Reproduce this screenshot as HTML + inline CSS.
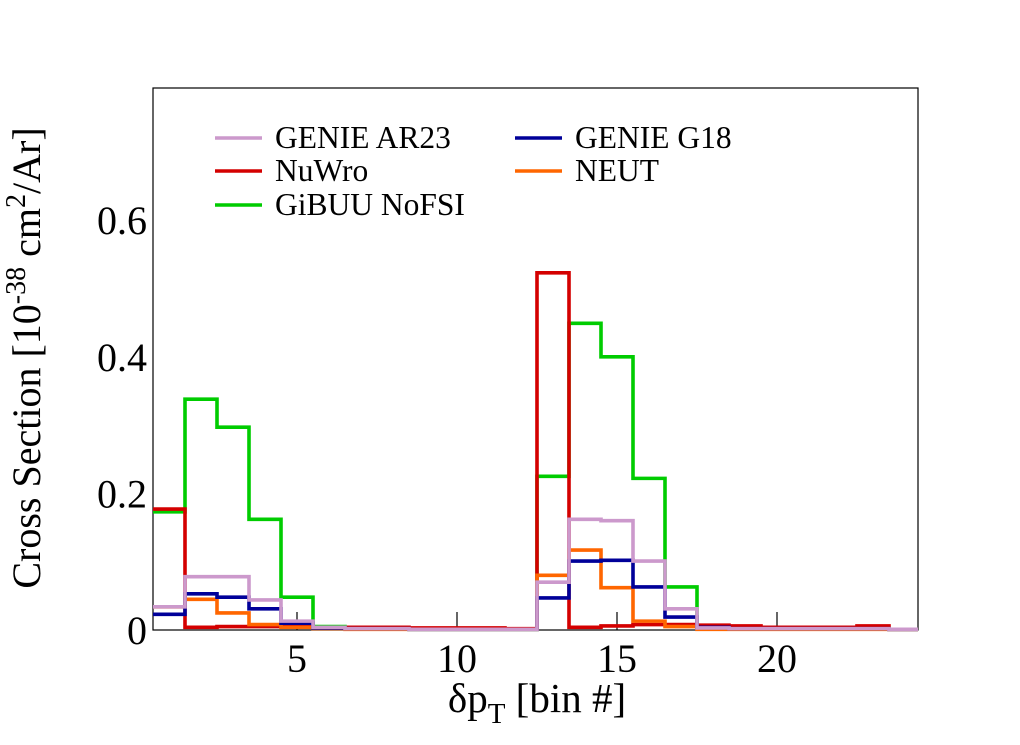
<!DOCTYPE html>
<html><head><meta charset="utf-8"><style>
body{margin:0;background:#fff;}
svg text{font-family:"Liberation Serif",serif;fill:#000;}
</style></head><body>
<svg id="c" width="1020" height="740" viewBox="0 0 1020 740">
<rect x="153" y="88" width="765" height="542" fill="none" stroke="#000" stroke-width="1.2"/>
<g id="ticks"></g>
<g id="series"></g>
<text x="40" y="358" font-size="40" text-anchor="middle" transform="rotate(-90 40 358)">Cross Section [10<tspan dy="-15" font-size="28">-38</tspan><tspan dy="15"> cm</tspan><tspan dy="-15" font-size="28">2</tspan><tspan dy="15">/Ar]</tspan></text>
<text x="537" y="712" font-size="41" text-anchor="middle">δp<tspan dy="11" font-size="29">T</tspan><tspan dy="-11"> [bin #]</tspan></text>
<g id="legend" font-size="31.5"></g>
</svg>
<script>
const bins=[1,2,3,4,5,6,7,8,9,10,11,12,13,14,15,16,17,18,19,20,21,22,23,24];
const gibuu=[0.173,0.338,0.297,0.162,0.048,0.005,0.002,0.002,0.001,0.001,0.001,0.001,0.225,0.449,0.400,0.222,0.063,0.003,0.002,0.002,0.002,0.002,0.002,0.001];
const nuwro=[0.177,0.004,0.005,0.005,0.005,0.003,0.004,0.004,0.003,0.003,0.003,0.002,0.523,0.004,0.006,0.008,0.008,0.007,0.006,0.004,0.004,0.004,0.006,0.001];
const neut=[0.034,0.045,0.025,0.008,0.004,0.002,0.001,0.001,0.001,0.001,0.001,0.001,0.080,0.117,0.062,0.013,0.005,0.001,0.001,0.001,0.001,0.001,0.001,0.001];
const g18=[0.023,0.053,0.048,0.031,0.010,0.003,0.002,0.002,0.001,0.001,0.001,0.001,0.047,0.101,0.102,0.063,0.019,0.004,0.002,0.002,0.002,0.002,0.002,0.001];
const ar23=[0.034,0.078,0.078,0.044,0.013,0.004,0.002,0.002,0.001,0.001,0.001,0.001,0.070,0.162,0.160,0.101,0.031,0.003,0.002,0.002,0.002,0.002,0.002,0.001];
const yTicks=[0,0.2,0.4,0.6];
const yTickLabels=["0","0.2","0.4","0.6"];
const xTicks=[5,10,15,20];
const NS='http://www.w3.org/2000/svg';
const X=v=>153+(v-0.5)*32, Y=v=>630-v*683;
const tk=document.getElementById('ticks');
yTicks.forEach((t,i)=>{const e=document.createElementNS(NS,'text');
e.setAttribute('x',147);e.setAttribute('y',Y(t)+14);e.setAttribute('font-size','40');e.setAttribute('text-anchor','end');
e.textContent=yTickLabels[i];


tk.appendChild(e);});
xTicks.forEach(t=>{const l=document.createElementNS(NS,'line');
l.setAttribute('x1',X(t));l.setAttribute('x2',X(t));l.setAttribute('y1',630);l.setAttribute('y2',612);l.setAttribute('stroke','#000');l.setAttribute('stroke-width','1.2');


tk.appendChild(l);
const e=document.createElementNS(NS,'text');
e.setAttribute('x',X(t));e.setAttribute('y',672);e.setAttribute('font-size','40');e.setAttribute('text-anchor','middle');e.textContent=t;


tk.appendChild(e);});
const series=[[gibuu,'#00cc00','gibuu-nofsi'],[nuwro,'#d40000','nuwro'],[neut,'#ff6600','neut'],[g18,'#000099','genie-g18'],[ar23,'#cc99cc','genie-ar23']];
const sg=document.getElementById('series');
series.forEach(([d,c,n])=>{let p='';
bins.forEach((b,i)=>{const x0=Math.max(153,X(b-0.5)),x1=Math.min(918,X(b+0.5)),y=Y(d[i]);
p+=(i==0?'M':'L')+x0+','+y+'L'+x1+','+y;});
const e=document.createElementNS(NS,'path');
e.setAttribute('d',p);e.setAttribute('fill','none');e.setAttribute('stroke',c);e.setAttribute('stroke-width','3.6');


sg.appendChild(e);});
const leg=[['GENIE AR23','#cc99cc',215,138],['GENIE G18','#000099',515,138],['NuWro','#d40000',215,171],['NEUT','#ff6600',515,171],['GiBUU NoFSI','#00cc00',215,205]];
const lg=document.getElementById('legend');
leg.forEach(([t,c,x,y])=>{const l=document.createElementNS(NS,'line');
l.setAttribute('x1',x);l.setAttribute('x2',x+47);l.setAttribute('y1',y);l.setAttribute('y2',y);l.setAttribute('stroke',c);l.setAttribute('stroke-width','3.6');


lg.appendChild(l);
const e=document.createElementNS(NS,'text');e.setAttribute('x',x+60);e.setAttribute('y',y+10);e.textContent=t;


lg.appendChild(e);});
</script>
</body></html>
